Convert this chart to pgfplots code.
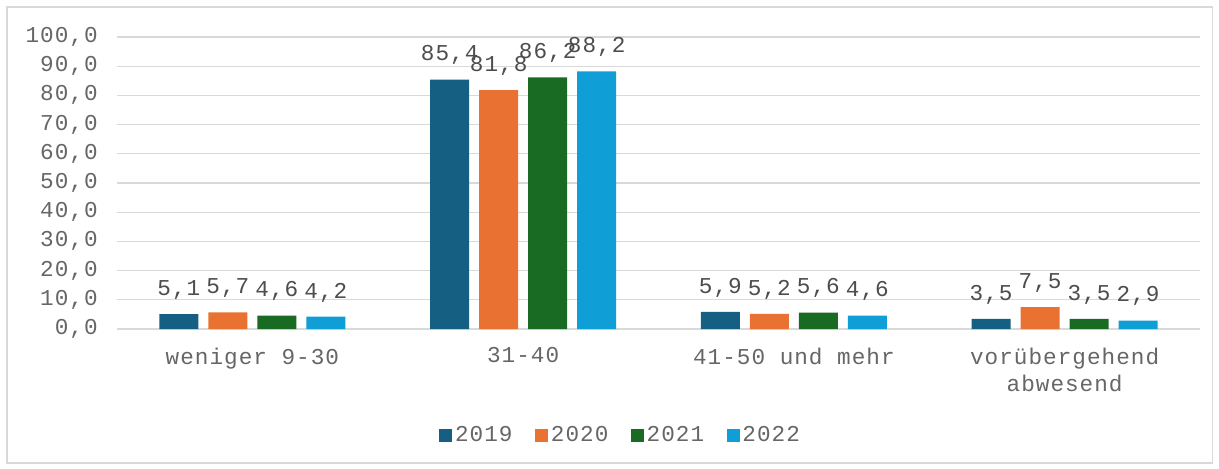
\documentclass[border=0pt]{standalone}
\usepackage{fontspec}
\setmainfont{Liberation Mono}[LetterSpace=4.5]
\usepackage{pgfplots}
\pgfplotsset{compat=1.18}
\definecolor{c19}{HTML}{156082}
\definecolor{c20}{HTML}{E97132}
\definecolor{c21}{HTML}{196B24}
\definecolor{c22}{HTML}{0F9ED5}
\definecolor{gridgray}{HTML}{D9D9D9}
\definecolor{ticktext}{HTML}{666666}
\definecolor{labeltext}{HTML}{4D4D4D}

\begin{document}
\begin{tikzpicture}[x=1pt,y=1pt]
\useasboundingbox (0,0) rectangle (914.25,351);
\draw[gridgray, line width=0.9pt] (5.25,3.75) rectangle (909.5,345.75);
\begin{axis}[
  at={(87.75pt,104.25pt)}, anchor=south west,
  scale only axis, width=812.25pt, height=219pt,
  ymin=0, ymax=100, ytick={0,10,...,100},
  xmin=-0.5, xmax=3.5,
  xtick={0,1,2,3},
  xticklabels={weniger 9-30, 31-40, 41-50 und mehr, {vorübergehend\\abwesend}},
  ybar=7.5pt, bar width=29.25pt,
  axis x line*=bottom, axis y line*=left,
  x axis line style={gridgray, line width=0.9pt},
  y axis line style={draw=none},
  major tick length=0pt,
  ymajorgrids, grid style={gridgray, line width=0.9pt},
  /pgf/number format/.cd, use comma, fixed, fixed zerofill, precision=1, assume math mode=true,
  /pgfplots/.cd,
  tick label style={font=\fontsize{17}{20.5}\selectfont, text=ticktext},
  yticklabel style={xshift=-11pt},
  xticklabel style={align=center, yshift=-10.5pt},
  nodes near coords,
  every node near coord/.append style={font=\fontsize{17}{20}\selectfont, text=labeltext, anchor=base, yshift=14pt},
  legend columns=4,
  legend style={at={(0.4654,-0.363)}, anchor=center, draw=none, fill=none,
    font=\fontsize{17}{20}\selectfont, text=ticktext,
    /tikz/every even column/.append style={column sep=15pt}},
  legend image code/.code={\fill[#1] (0pt,-4.875pt) rectangle (9.75pt,4.875pt);},
]
\addplot[fill=c19, draw=none] coordinates {(0,5.1) (1,85.4) (2,5.9) (3,3.5)};
\addlegendentry{2019}
\addplot[fill=c20, draw=none] coordinates {(0,5.7) (1,81.8) (2,5.2) (3,7.5)};
\addlegendentry{2020}
\addplot[fill=c21, draw=none] coordinates {(0,4.6) (1,86.2) (2,5.6) (3,3.5)};
\addlegendentry{2021}
\addplot[fill=c22, draw=none] coordinates {(0,4.2) (1,88.2) (2,4.6) (3,2.9)};
\addlegendentry{2022}
\end{axis}
\end{tikzpicture}
\end{document}
